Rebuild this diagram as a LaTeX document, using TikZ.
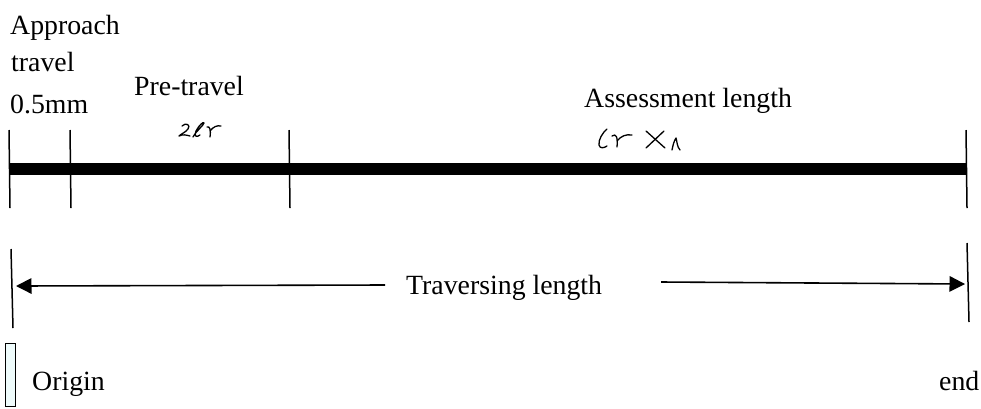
\documentclass[tikz,border=0pt]{standalone}
\usepackage{xcolor}
\usepackage{fontspec}
\setmainfont{Liberation Serif}
\usetikzlibrary{arrows.meta}
\definecolor{boxfill}{HTML}{EFFCFC}
\tikzset{
  lab/.style={font=\fontsize{27.8}{30}\selectfont,inner sep=0pt,anchor=base west},
  tickmark/.style={line width=1.5pt},
  pen/.style={line width=1.3pt,line cap=round,line join=round},
  span/.style={line width=1.6pt,-{Triangle[length=15.5pt,width=15.5pt]}}
}
\begin{document}
\begin{tikzpicture}[x=1pt,y=-1pt]
\useasboundingbox (0,0) rectangle (981,408);
% main bar
\coordinate (barL) at (9,169);
\coordinate (barR) at (967,169);
\draw[line width=11.5pt] (barL)--(barR);
% ticks on the bar
\foreach \x/\nm in {9/a,70/b,289/c,966/d}{
  \coordinate (\nm top) at (\x,130);
  \coordinate (\nm bot) at (\x+1,208);
  \draw[tickmark] (\nm top)--(\nm bot);}
% limits of the traverse
\coordinate (oTop) at (11,249);
\coordinate (oBot) at (13,328);
\coordinate (eTop) at (967,243);
\coordinate (eBot) at (969,322);
\draw[tickmark] (oTop)--(oBot);
\draw[tickmark] (eTop)--(eBot);
% labels
\node[lab] (appr) at (10,34) {Approach};
\node[lab] (trav) at (11,71) {travel};
\node[lab] (half) at (10,113) {0.5mm};
\node[lab] (pre) at (134,95) {Pre-travel};
\node[lab] (assess) at (584,107) {Assessment length};
\node[lab] (traverse) at (406,294) {Traversing length};
\node[lab] (origin) at (32,390) {Origin};
\node[lab] (endlab) at (939,390) {end};
% arrows
\coordinate (arrL) at (16,286);
\coordinate (arrR) at (965,284);
\draw[span] (385,285)--(arrL);
\draw[span] (661,282)--(arrR);
% stylus
\node[draw,line width=1.2pt,fill=boxfill,minimum width=10pt,minimum height=63pt,inner sep=0pt] (stylus) at (10.5,375) {};
% handwritten 2lr
\draw[pen] (182,126) .. controls (186,122) and (191,125) .. (188,129) .. controls (186,132) and (181,134) .. (179,136) .. controls (183,134) and (186,135) .. (190,136);
\draw[pen] (193,137) .. controls (197,130) and (203,126) .. (204,123) .. controls (204,121) and (199,125) .. (196,131) .. controls (194,136) and (196,138) .. (200,135);
\draw[pen] (207,127) .. controls (210,126) and (211,130) .. (210,137);
\draw[pen] (210,131) .. controls (213,127) and (217,125) .. (221,126);
% handwritten lr x n
\draw[pen] (607,129) .. controls (603,132) and (598,140) .. (599,145) .. controls (600,149) and (604,148) .. (607,146);
\draw[pen] (612,136) .. controls (616,133) and (618,137) .. (617,147);
\draw[pen] (617,141) .. controls (621,136) and (626,134) .. (632,135);
\draw[pen] (646,131)--(665,148);
\draw[pen] (664,131)--(646,148);
\draw[pen] (672,150) .. controls (673,145) and (674,141) .. (676,138) .. controls (677,141) and (677,147) .. (680,150);
\end{tikzpicture}
\end{document}
